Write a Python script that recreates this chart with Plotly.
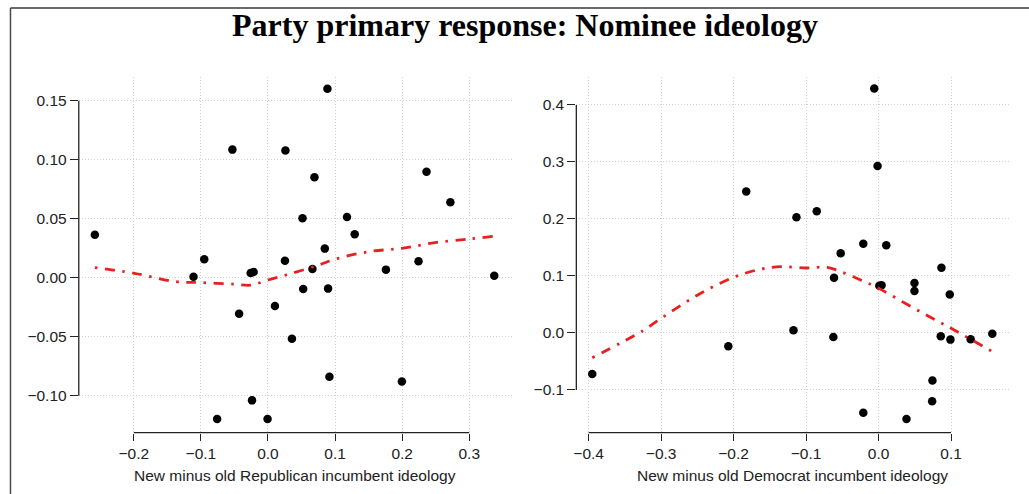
import plotly.graph_objects as go

# ---------------- data ----------------
rep_x = [-0.258, -0.111, -0.095, -0.053, -0.043, -0.0258, -0.0214, -0.0758, -0.0238, -0.0006,
         0.0104, 0.026, 0.0253, 0.0357, 0.0515, 0.0525, 0.0693, 0.0663, 0.0847, 0.0886,
         0.0896, 0.0916, 0.1178, 0.1293, 0.1758, 0.1996, 0.2244, 0.2363, 0.2719, 0.3373]
rep_y = [0.0364, 0.0008, 0.0156, 0.1085, -0.0305, 0.0040, 0.0048, -0.1197, -0.1040, -0.1197,
         -0.0240, 0.1077, 0.0144, -0.0517, 0.0503, -0.0096, 0.0851, 0.0074, 0.0246, 0.1600,
         -0.0093, -0.0839, 0.0514, 0.0368, 0.0068, -0.0881, 0.0139, 0.0898, 0.0639, 0.0017]

rep_fit_x = [-0.258, -0.199, -0.137, -0.100, -0.048, -0.026, 0.000, 0.036, 0.076, 0.100,
             0.150, 0.200, 0.249, 0.301, 0.335]
rep_fit_y = [0.0085, 0.0037, -0.0034, -0.0042, -0.0056, -0.0064, -0.0020, 0.0037, 0.0108, 0.0156,
             0.0220, 0.0249, 0.0297, 0.0328, 0.0350]

dem_x = [-0.395, -0.2073, -0.1826, -0.1174, -0.1133, -0.0853, -0.0624, -0.0615, -0.0523, -0.0211,
         -0.0211, -0.0060, -0.0014, 0.0010, 0.0041, 0.0106, 0.0385, 0.0495, 0.0495, 0.0743,
         0.0739, 0.0867, 0.0858, 0.0982, 0.0991, 0.1270, 0.1569]
dem_y = [-0.0719, -0.0234, 0.2480, 0.0047, 0.2030, 0.2135, -0.0070, 0.0970, 0.1398, 0.1567,
         -0.1398, 0.4287, 0.2930, 0.0830, 0.0836, 0.1538, -0.1509, 0.0877, 0.0737, -0.0836,
         -0.1199, 0.1146, -0.0058, 0.0673, -0.0117, -0.0111, -0.0012]

dem_fit_x = [-0.395, -0.325, -0.300, -0.2495, -0.200, -0.1624, -0.1349, -0.100, -0.0706, -0.0523,
             -0.0248, 0.000, 0.0367, 0.0716, 0.100, 0.127, 0.1587]
dem_fit_y = [-0.0433, 0.0040, 0.0257, 0.0667, 0.0977, 0.1120, 0.1164, 0.1140, 0.1152, 0.1076,
             0.0930, 0.0784, 0.0520, 0.0275, 0.0082, -0.0110, -0.0339]

rep_xticks = [-0.2, -0.1, 0.0, 0.1, 0.2, 0.3]
rep_xtext = ["\u22120.2", "\u22120.1", "0.0", "0.1", "0.2", "0.3"]
rep_yticks = [-0.10, -0.05, 0.0, 0.05, 0.10, 0.15]
rep_ytext = ["\u22120.10", "\u22120.05", "0.00", "0.05", "0.10", "0.15"]
dem_xticks = [-0.4, -0.3, -0.2, -0.1, 0.0, 0.1]
dem_xtext = ["\u22120.4", "\u22120.3", "\u22120.2", "\u22120.1", "0.0", "0.1"]
dem_yticks = [-0.1, 0.0, 0.1, 0.2, 0.3, 0.4]
dem_ytext = ["\u22120.1", "0.0", "0.1", "0.2", "0.3", "0.4"]

title = "Party primary response: Nominee ideology"
rep_xlabel = "New minus old Republican incumbent ideology"
dem_xlabel = "New minus old Democrat incumbent ideology"

# ---------------- layout geometry (pixels) ----------------
W, H = 1029, 494
def px(x):
    return x / W
def py(y):
    return 1 - y / H

dom1 = [px(76), px(510)]
dom2 = [px(575), px(1009)]
ydom = [py(432.7), py(76.7)]

RED = "#E8201F"
DOT = "black"
FIT_DASH = "2.5px,7.5px,10px,7.5px"

fig = go.Figure()
fig.add_trace(go.Scatter(x=rep_x, y=rep_y, mode="markers", xaxis="x", yaxis="y",
                         marker=dict(color=DOT, size=8.5), showlegend=False))
fig.add_trace(go.Scatter(x=rep_fit_x, y=rep_fit_y, mode="lines", xaxis="x", yaxis="y",
                         line=dict(color=RED, width=2.8, dash=FIT_DASH, shape="spline"),
                         showlegend=False))
fig.add_trace(go.Scatter(x=dem_x, y=dem_y, mode="markers", xaxis="x2", yaxis="y2",
                         marker=dict(color=DOT, size=8.5), showlegend=False))
fig.add_trace(go.Scatter(x=dem_fit_x, y=dem_fit_y, mode="lines", xaxis="x2", yaxis="y2",
                         line=dict(color=RED, width=2.8, dash=FIT_DASH, shape="spline"),
                         showlegend=False))

tickfont = dict(family="Liberation Sans, Arial, sans-serif", size=15.5, color="#222222")
common = dict(showline=False, zeroline=False, ticks="outside", tickcolor="#222222",
              tickwidth=1.3, showgrid=True, gridcolor="#cfcfcf", griddash="1px,2px",
              gridwidth=1, tickfont=tickfont, tickmode="array", fixedrange=True)

fig.update_layout(
    width=W, height=H,
    margin=dict(l=0, r=0, t=0, b=0),
    paper_bgcolor="white", plot_bgcolor="white",
    title=dict(text="<b>" + title + "</b>", x=523.5 / W, y=py(25), xanchor="center",
               yanchor="middle", xref="paper", yref="paper",
               font=dict(family="Liberation Serif, Times New Roman, serif", size=32, color="black")),
    xaxis=dict(domain=dom1, anchor="y", range=[-0.282, 0.363], tickvals=rep_xticks,
               ticktext=rep_xtext, ticklen=7, **common),
    yaxis=dict(domain=ydom, anchor="x", range=[-0.1314, 0.1703], tickvals=rep_yticks,
               ticktext=rep_ytext, ticklen=8, **common),
    xaxis2=dict(domain=dom2, anchor="y2", range=[-0.417, 0.180], tickvals=dem_xticks,
                ticktext=dem_xtext, ticklen=7, **common),
    yaxis2=dict(domain=ydom, anchor="x2", range=[-0.175, 0.4496], tickvals=dem_yticks,
                ticktext=dem_ytext, ticklen=8, **common),
)

labfont = dict(family="Liberation Sans, Arial, sans-serif", size=15.5, color="#222222")
fig.add_annotation(text=rep_xlabel, x=(dom1[0] + dom1[1]) / 2, y=py(475), xref="paper",
                   yref="paper", showarrow=False, xanchor="center", yanchor="middle", font=labfont)
fig.add_annotation(text=dem_xlabel, x=(dom2[0] + dom2[1]) / 2, y=py(475), xref="paper",
                   yref="paper", showarrow=False, xanchor="center", yanchor="middle", font=labfont)

axcol = "#222222"
shapes = [
    # R-style axis lines spanning first to last tick
    dict(type="line", xref="x", yref="paper", x0=rep_xticks[0], x1=rep_xticks[-1],
         y0=ydom[0], y1=ydom[0], line=dict(color=axcol, width=1.3)),
    dict(type="line", xref="paper", yref="y", x0=dom1[0], x1=dom1[0],
         y0=rep_yticks[0], y1=rep_yticks[-1], line=dict(color=axcol, width=1.3)),
    dict(type="line", xref="x2", yref="paper", x0=dem_xticks[0], x1=dem_xticks[-1],
         y0=ydom[0], y1=ydom[0], line=dict(color=axcol, width=1.3)),
    dict(type="line", xref="paper", yref="y2", x0=dom2[0], x1=dom2[0],
         y0=dem_yticks[0], y1=dem_yticks[-1], line=dict(color=axcol, width=1.3)),
    # outer frame (top and left)
    dict(type="line", xref="paper", yref="paper", x0=px(7.5), x1=1.0, y0=py(8), y1=py(8),
         line=dict(color="#6a6a6a", width=2)),
    dict(type="line", xref="paper", yref="paper", x0=px(7.5), x1=px(7.5), y0=0, y1=py(8),
         line=dict(color="#4a4a4a", width=1.5)),
]
fig.update_layout(shapes=shapes)

fig.write_html("out.html", config={"displayModeBar": False},
               post_script="document.body.style.margin='0';document.body.style.overflow='hidden';")
